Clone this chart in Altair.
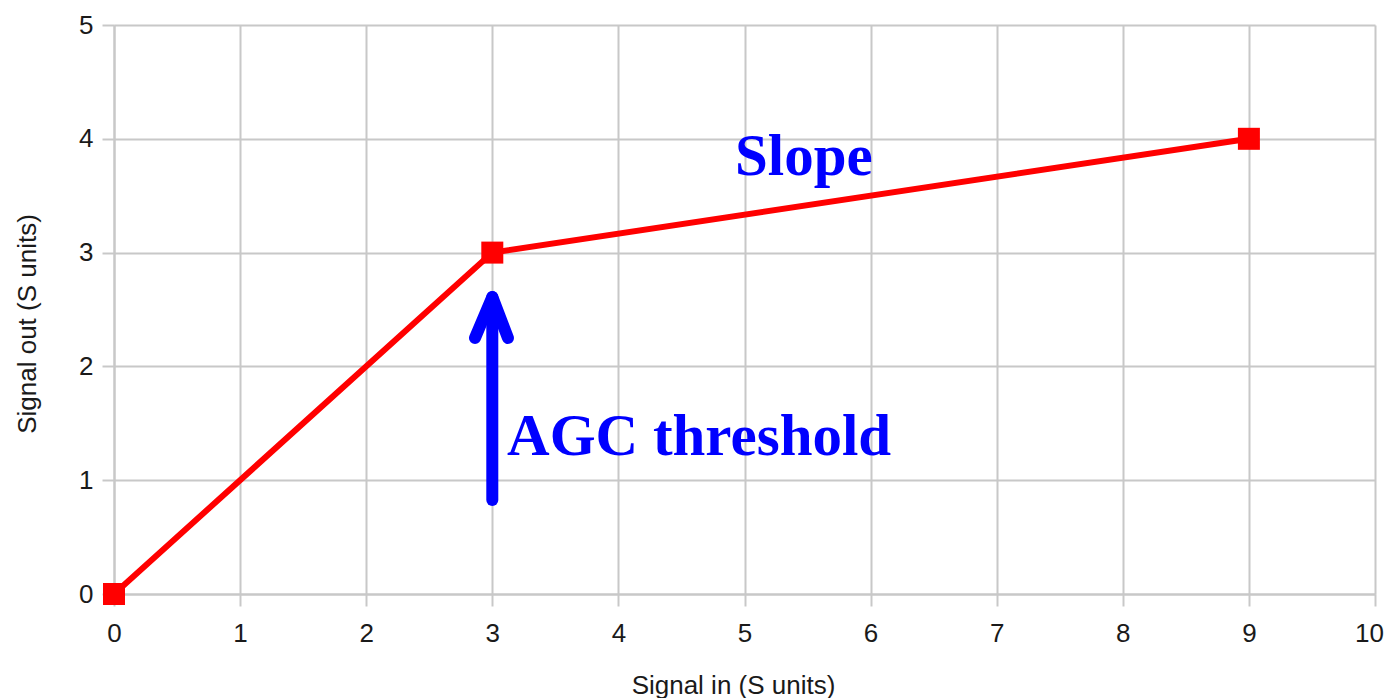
import altair as alt
import pandas as pd

# Data
signal_in = [0, 3, 9]
signal_out = [0, 3, 4]

x_ticks = list(range(0, 11))
y_ticks = list(range(0, 6))

# Annotations
label_text = ["Slope", "AGC threshold"]
label_x = [4.925, 3.117]
label_y = [3.682, 1.221]

shaft_x = [3.0, 3.0]
shaft_y = [0.826, 2.61]
head_x = [2.863, 3.0, 3.124]
head_y = [2.25, 2.61, 2.25]

GRID = "#c8c8c8"
SANS = "Liberation Sans"

df_line = pd.DataFrame({"x": signal_in, "y": signal_out})
df_text = pd.DataFrame({"x": label_x, "y": label_y, "t": label_text})
df_shaft = pd.DataFrame({"x": shaft_x, "y": shaft_y, "o": [0, 1]})
df_head = pd.DataFrame({"x": head_x, "y": head_y, "o": [0, 1, 2]})

xscale = alt.Scale(domain=[0, 10], nice=False, zero=False)
yscale = alt.Scale(domain=[0, 5], nice=False, zero=False)

common_axis = dict(
    grid=True, gridColor=GRID, gridWidth=2,
    domainColor=GRID, domainWidth=2,
    tickColor=GRID, tickWidth=2, tickSize=12,
    labelFont=SANS, labelFontSize=26, labelColor="#1a1a1a",
    labelFlush=False, labelOverlap=False, format="d",
    titleFont=SANS, titleFontSize=26, titleFontWeight="normal",
    titleColor="#1a1a1a", titleAlign="center", titleBaseline="alphabetic",
)

x_axis = alt.Axis(values=x_ticks, title="Signal in (S units)", labelPadding=14,
                  labelOffset={"condition": {"test": "datum.value == 10", "value": -6}, "value": 0},
                  titleX=619, titleY=99, **common_axis)
y_axis = alt.Axis(values=y_ticks, title="Signal out (S units)", labelPadding=9,
                  titleX=-79, titleY=298.5, titleAngle=270, **common_axis)

line = alt.Chart(df_line).mark_line(color="#ff0000", strokeWidth=6).encode(
    x=alt.X("x:Q", scale=xscale, axis=x_axis),
    y=alt.Y("y:Q", scale=yscale, axis=y_axis),
)

points = alt.Chart(df_line).mark_square(size=484, color="#ff0000", opacity=1).encode(
    x=alt.X("x:Q", scale=xscale),
    y=alt.Y("y:Q", scale=yscale),
)

shaft = alt.Chart(df_shaft).mark_line(color="#0000ff", strokeWidth=12, strokeCap="round").encode(
    x=alt.X("x:Q", scale=xscale),
    y=alt.Y("y:Q", scale=yscale),
    order="o:Q",
)

head = alt.Chart(df_head).mark_line(color="#0000ff", strokeWidth=12, strokeCap="round",
                                    strokeJoin="round").encode(
    x=alt.X("x:Q", scale=xscale),
    y=alt.Y("y:Q", scale=yscale),
    order="o:Q",
)

texts = alt.Chart(df_text).mark_text(
    font="Liberation Serif", fontWeight="bold", fontSize=59, color="#0000ff",
    align="left", baseline="alphabetic",
).encode(
    x=alt.X("x:Q", scale=xscale),
    y=alt.Y("y:Q", scale=yscale),
    text="t:N",
)

chart = alt.layer(line, points, shaft, head, texts).properties(
    width=1261, height=569,
    autosize=alt.AutoSizeParams(type="none"),
    padding={"left": 106, "top": 17, "right": 9, "bottom": 106},
    background="white",
).configure_view(strokeWidth=0)

chart.save("out.html", embed_options={"renderer": "svg", "actions": False})
